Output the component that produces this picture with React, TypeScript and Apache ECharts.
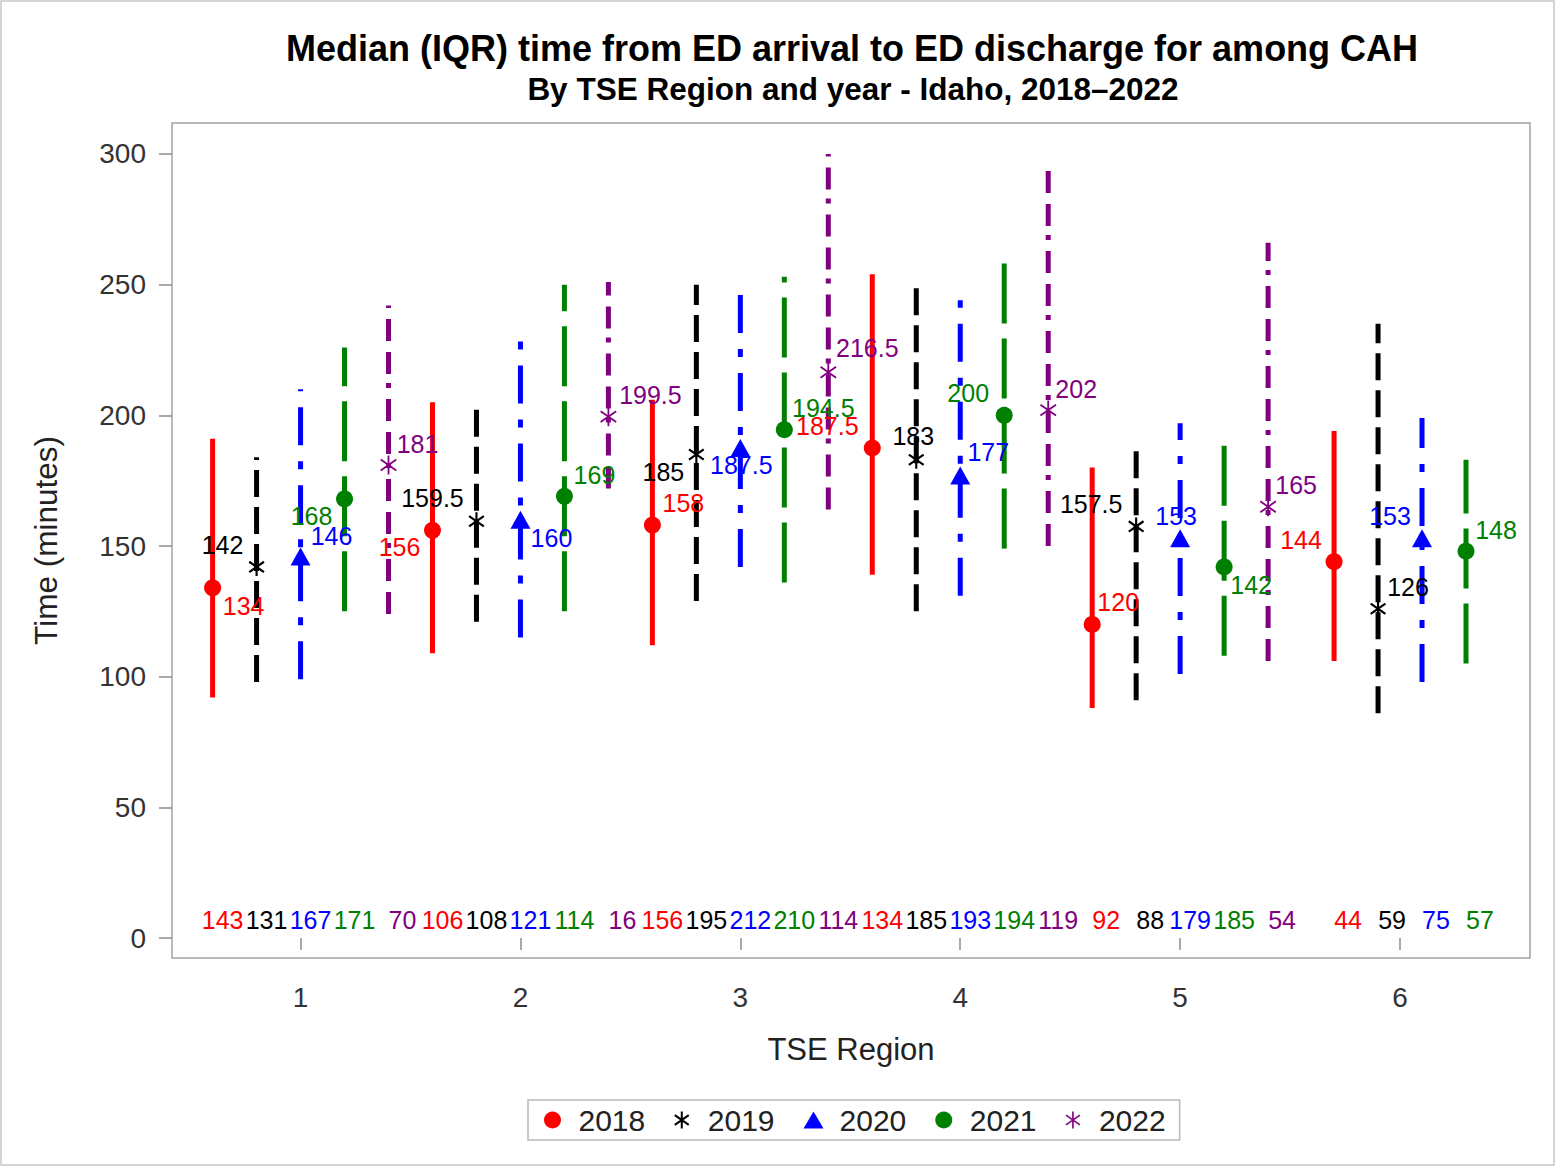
import React, { useEffect, useRef } from "react";
import * as echarts from "echarts";

const FONT = "'Liberation Sans', Arial, Helvetica, sans-serif";

// ---- data ----
const regions = [1, 2, 3, 4, 5, 6];
const years = ["2018", "2019", "2020", "2021", "2022"];
const yTicks = [0, 50, 100, 150, 200, 250, 300];

const median2018 = [134, 156, 158, 187.5, 120, 144];
const q1_2018 = [92, 109, 112, 139, 88, 106];
const q3_2018 = [191, 205, 206, 254, 180, 194];
const n2018 = [143, 106, 156, 134, 92, 44];

const median2019 = [142, 159.5, 185, 183, 157.5, 126];
const q1_2019 = [98, 121, 129, 125, 91, 86];
const q3_2019 = [184, 203, 250, 251, 190, 235];
const n2019 = [131, 108, 195, 185, 88, 59];

const median2020 = [146, 160, 187.5, 177, 153, 153];
const q1_2020 = [99, 115, 142, 131, 101, 98];
const q3_2020 = [210, 232, 250, 244, 197, 199];
const n2020 = [167, 121, 212, 193, 179, 75];

const median2021 = [168, 169, 194.5, 200, 142, 148];
const q1_2021 = [125, 125, 136, 149, 108, 105];
const q3_2021 = [226, 250, 253, 259, 194, 183];
const n2021 = [171, 114, 210, 194, 185, 57];

const median2022 = [181, 199.5, 216.5, 202, 165, null];
const q1_2022 = [124, 172, 164, 150, 106, null];
const q3_2022 = [242, 251, 300, 297, 266, null];
const n2022 = [70, 16, 114, 119, 54, null];

// group layout: shift of each year within a region (region 6 has 4 years)
const shift5 = [-0.4, -0.2, 0, 0.2, 0.4];
const shift4 = [-0.3, -0.1, 0.1, 0.3];

// label placement of the median labels (pixel offsets from marker), separate from data
const labelOffsets = [
  [[31, 18], [-33, 17], [31, -22], [-45, -22], [26, -22], [-33, -22]],
  [[-34, -22], [-44, -23], [-33, 17], [-3, -24], [-45, -22], [30, -22]],
  [[31, -20], [31, 18], [1, 17], [28, -23], [-4, -22], [-32, -22]],
  [[-33, 17], [30, -21], [39, -22], [-36, -22], [27, 18], [30, -21]],
  [[29, -21], [42, -22], [39, -24], [28, -21], [28, -22], [0, 0]],
];

const medians = [median2018, median2019, median2020, median2021, median2022];
const q1s = [q1_2018, q1_2019, q1_2020, q1_2021, q1_2022];
const q3s = [q3_2018, q3_2019, q3_2020, q3_2021, q3_2022];
const ns = [n2018, n2019, n2020, n2021, n2022];

// ---- styles ----
const colors = ["#ff0000", "#000000", "#0000ff", "#008000", "#800080"];
const dashes: (number[] | null)[] = [
  null,
  [27, 10],
  [38, 16, 8, 16],
  [60, 15],
  [22, 11, 22, 11, 5, 9],
];

function asteriskPath(r: number, t: number, angles: number[]) {
  const parts: string[] = [];
  for (const a of angles) {
    const th = (a * Math.PI) / 180;
    const dx = Math.cos(th), dy = Math.sin(th);
    const nx = -dy, ny = dx;
    const h = t / 2;
    const pts = [
      [r * dx + h * nx, r * dy + h * ny],
      [r * dx - h * nx, r * dy - h * ny],
      [-r * dx - h * nx, -r * dy - h * ny],
      [-r * dx + h * nx, -r * dy + h * ny],
    ];
    parts.push(
      "M" + pts.map((p) => p[0].toFixed(2) + "," + p[1].toFixed(2)).join("L") + "Z"
    );
  }
  return "path://" + parts.join("");
}

const symbols = [
  "circle",
  asteriskPath(10, 2.4, [90, 35, -35]),
  "triangle",
  "circle",
  asteriskPath(10, 1.9, [90, 35, -35]),
];
const symbolSizes: any[] = [17, 18, [20, 18], 17, 19];

function xPos(regionIdx: number, yearIdx: number) {
  const count = medians.filter((m) => m[regionIdx] != null).length;
  const sh = count === 5 ? shift5 : shift4;
  return regions[regionIdx] + sh[yearIdx];
}

export default function App() {
  const ref = useRef<HTMLDivElement>(null);
  useEffect(() => {
    if (!ref.current) return;
    const chart = echarts.init(ref.current, null, { renderer: "svg" });

    const customSeries: any[] = years.map((yr, yi) => {
      const data: any[] = [];
      regions.forEach((_, ri) => {
        if (medians[yi][ri] == null) return;
        data.push([xPos(ri, yi), q1s[yi][ri], q3s[yi][ri], ns[yi][ri]]);
      });
      return {
        type: "custom",
        name: yr + " IQR",
        data,
        z: 2,
        encode: { x: 0, y: [1, 2] },
        renderItem: (params: any, api: any) => {
          const x = api.value(0);
          const p1 = api.coord([x, api.value(1)]);
          const p2 = api.coord([x, api.value(2)]);
          const base = api.coord([x, 0]);
          const n = api.value(3);
          return {
            type: "group",
            children: [
              {
                type: "line",
                shape: { x1: p1[0], y1: p1[1], x2: p2[0], y2: p2[1] },
                style: {
                  stroke: colors[yi],
                  lineWidth: 5,
                  lineDash: dashes[yi] || undefined,
                  lineCap: "butt",
                },
              },
              {
                type: "text",
                x: base[0] + (n >= 100 ? 10 : 14),
                y: base[1] - 18,
                style: {
                  text: String(n),
                  fill: colors[yi],
                  fontSize: 25,
                  fontFamily: FONT,
                  align: "center",
                  verticalAlign: "middle",
                },
              },
            ],
          };
        },
      };
    });

    const scatterSeries: any[] = years.map((yr, yi) => {
      const data: any[] = [];
      regions.forEach((_, ri) => {
        const m = medians[yi][ri];
        if (m == null) return;
        data.push({
          value: [xPos(ri, yi), m],
          label: { offset: labelOffsets[yi][ri] },
        });
      });
      return {
        type: "scatter",
        name: yr,
        data,
        z: 4,
        symbol: symbols[yi],
        symbolSize: symbolSizes[yi],
        symbolKeepAspect: true,
        itemStyle: { color: colors[yi], opacity: 1 },
        label: {
          show: true,
          position: "inside",
          formatter: (p: any) => String(p.value[1]),
          color: colors[yi],
          fontSize: 25,
          fontFamily: FONT,
          align: "center",
          verticalAlign: "middle",
        },
        emphasis: { disabled: true },
      };
    });

    const option: any = {
      animation: false,
      backgroundColor: "#ffffff",
      textStyle: { fontFamily: FONT },
      graphic: [
        {
          type: "rect",
          shape: { x: 1, y: 1, width: 1553, height: 1164 },
          style: { fill: "none", stroke: "#c8c8c8", lineWidth: 1.5 },
          silent: true,
        },
        {
          type: "text",
          x: 852,
          y: 48,
          style: {
            text: "Median (IQR) time from ED arrival to ED discharge for among CAH",
            fontSize: 36,
            fontWeight: "bold",
            fontFamily: FONT,
            fill: "#000",
            align: "center",
            verticalAlign: "middle",
          },
        },
        {
          type: "text",
          x: 853,
          y: 89,
          style: {
            text: "By TSE Region and year - Idaho, 2018\u20132022",
            fontSize: 31.5,
            fontWeight: "bold",
            fontFamily: FONT,
            fill: "#000",
            align: "center",
            verticalAlign: "middle",
          },
        },
      ],
      grid: {
        left: 172,
        top: 123,
        width: 1358,
        height: 835,
        show: true,
        borderColor: "#a3a3a3",
        borderWidth: 1.5,
        containLabel: false,
        outerBoundsMode: "none",
      },
      legend: {
        data: years,
        left: 528,
        top: 1100,
        orient: "horizontal",
        itemWidth: 20,
        itemHeight: 17,
        itemGap: 29,
        padding: [5, 14, 5, 16],
        borderColor: "#b8b8b8",
        borderWidth: 1.5,
        textStyle: {
          fontSize: 30,
          color: "#222",
          fontFamily: FONT,
          padding: [0, 0, 0, 11],
        },
        selectedMode: false,
      },
      xAxis: {
        type: "value",
        min: 0.4154,
        max: 6.591,
        name: "TSE Region",
        nameLocation: "middle",
        nameGap: 76,
        nameMoveOverlap: false,
        nameTextStyle: { fontSize: 31, color: "#222", fontFamily: FONT },
        axisLine: { show: false },
        axisTick: {
          show: true,
          customValues: regions,
          length: 12,
          lineStyle: { color: "#8c8c8c", width: 1.5 },
        },
        axisLabel: {
          customValues: regions,
          fontSize: 28,
          color: "#333",
          margin: 25,
          fontFamily: FONT,
        },
        splitLine: { show: false },
      },
      yAxis: {
        type: "value",
        min: -7.65,
        max: 311.86,
        name: "Time (minutes)",
        nameLocation: "middle",
        nameGap: 110,
        nameRotate: 90,
        nameMoveOverlap: false,
        nameTextStyle: { fontSize: 31.5, color: "#222", fontFamily: FONT },
        axisLine: { show: false },
        axisTick: {
          show: true,
          customValues: yTicks,
          length: 13,
          lineStyle: { color: "#8c8c8c", width: 1.5 },
        },
        axisLabel: {
          customValues: yTicks,
          fontSize: 28,
          color: "#333",
          margin: 26,
          fontFamily: FONT,
        },
        splitLine: { show: false },
      },
      series: [...customSeries, ...scatterSeries],
    };

    chart.setOption(option);
    return () => chart.dispose();
  }, []);

  return (
    <div
      ref={ref}
      style={{ position: "absolute", left: 0, top: 0, width: 1557, height: 1168, background: "#fff" }}
    />
  );
}
